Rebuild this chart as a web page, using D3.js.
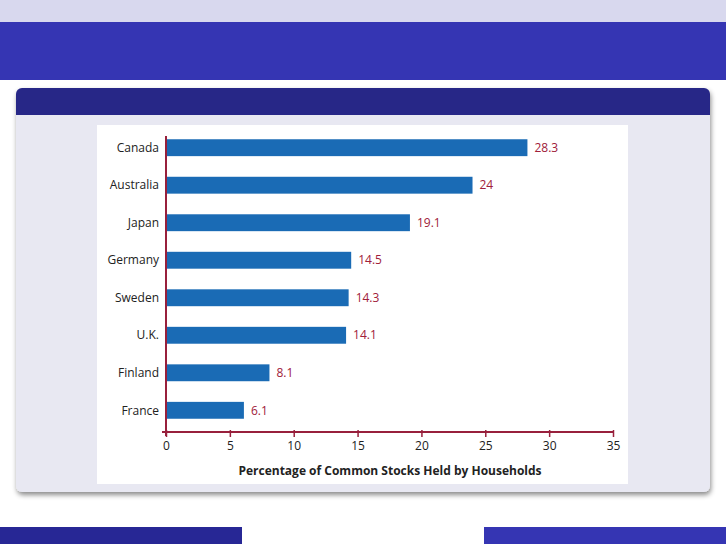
<!DOCTYPE html>
<html><head><meta charset="utf-8">
<script src="https://cdn.jsdelivr.net/npm/d3@7"></script>
<style>body{margin:0;overflow:hidden}</style>
</head><body><div id="chart"></div>
<script>
var countries = ["Canada","Australia","Japan","Germany","Sweden","U.K.","Finland","France"];
var values = [28.3,24,19.1,14.5,14.3,14.1,8.1,6.1];
var ticks = [0,5,10,15,20,25,30,35];

var W = 726, H = 544;
var svg = d3.select("#chart").append("svg").attr("width",W).attr("height",H);
var defs = svg.append("defs");
var f = defs.append("filter").attr("id","sh").attr("x","-5%").attr("y","-5%").attr("width","110%").attr("height","115%");
f.append("feDropShadow").attr("dx",1).attr("dy",3).attr("stdDeviation",2.5).attr("flood-opacity",0.45);

// slide background
svg.append("rect").attr("width",W).attr("height",H).attr("fill","#ffffff");
svg.append("rect").attr("width",W).attr("height",22).attr("fill","#d8d8ee");
svg.append("rect").attr("y",22).attr("width",W).attr("height",58).attr("fill","#3535b3");
svg.append("rect").attr("x",0).attr("y",527).attr("width",242).attr("height",17).attr("fill","#272795");
svg.append("rect").attr("x",484).attr("y",527).attr("width",242).attr("height",17).attr("fill","#3535b3");

// block
svg.append("rect").attr("x",16).attr("y",88).attr("width",694).attr("height",404).attr("rx",6)
  .attr("fill","#e8e8f2").attr("filter","url(#sh)");
svg.append("path").attr("d","M16,115 V94 a6,6 0 0 1 6,-6 H704 a6,6 0 0 1 6,6 V115 Z").attr("fill","#272787");
svg.append("rect").attr("x",97).attr("y",125).attr("width",531).attr("height",359).attr("fill","#ffffff");

var x = d3.scaleLinear().domain([0,35]).range([166,613]);
var y = d3.scaleBand().domain(countries).range([128,430]).paddingInner(0.55).paddingOuter(0.3);

var g = svg.append("g").style("font-family","'Open Sans',sans-serif");

g.selectAll("rect.bar").data(values).enter().append("rect").attr("class","bar")
  .attr("x",x(0)).attr("y",function(d,i){return y(countries[i]);})
  .attr("width",function(d){return x(d)-x(0);}).attr("height",y.bandwidth())
  .attr("fill","#1a6bb5");

g.selectAll("text.val").data(values).enter().append("text").attr("class","val")
  .attr("x",function(d){return x(d)+7;}).attr("y",function(d,i){return y(countries[i])+y.bandwidth()/2;})
  .attr("dy","0.35em").attr("font-size",12).attr("fill","#a0203a").text(function(d){return d;});

g.selectAll("text.cat").data(countries).enter().append("text").attr("class","cat")
  .attr("x",159).attr("y",function(d){return y(d)+y.bandwidth()/2;})
  .attr("dy","0.35em").attr("text-anchor","end").attr("font-size",12).attr("fill","#222").text(function(d){return d;});

// axes
g.append("line").attr("x1",x(0)).attr("x2",x(0)).attr("y1",136).attr("y2",436).attr("stroke","#98203c").attr("stroke-width",2);
var xa = g.append("g").attr("transform","translate(0,432)")
  .call(d3.axisBottom(x).tickValues(ticks).tickSize(5).tickSizeOuter(0).tickPadding(4));
xa.select(".domain").attr("d","M162,0H"+x(35)).attr("stroke","#98203c").attr("stroke-width",2);
xa.selectAll(".tick line").attr("stroke","#98203c").attr("stroke-width",1.5).attr("y1",-2);
xa.selectAll(".tick text").attr("font-size",12).attr("fill","#222").style("font-family","'Open Sans',sans-serif");

g.append("text").attr("x",390).attr("y",475).attr("text-anchor","middle").attr("font-size",12)
  .attr("font-weight","bold").attr("fill","#222").text("Percentage of Common Stocks Held by Households");
</script></body></html>
